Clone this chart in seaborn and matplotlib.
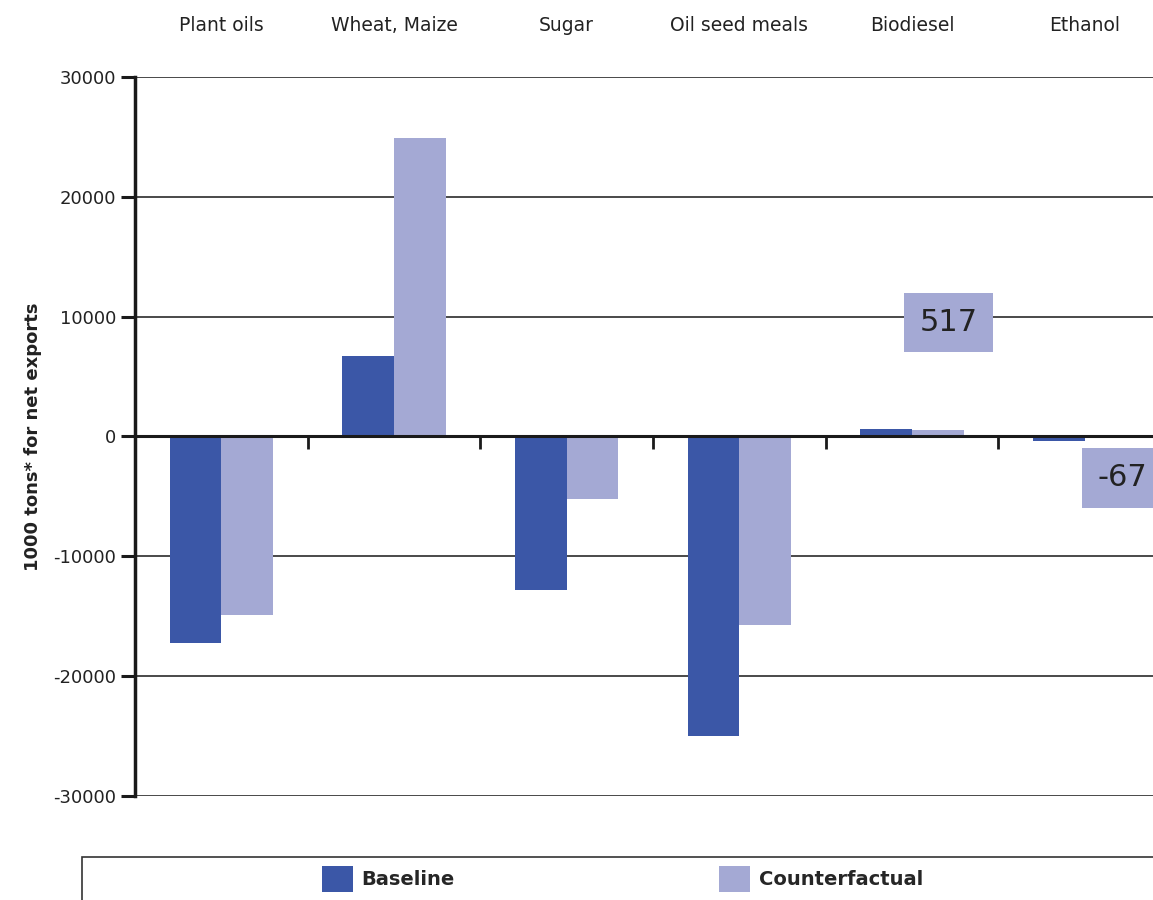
import pandas as pd
import matplotlib
import matplotlib.pyplot as plt
import seaborn as sns
from matplotlib.patches import Patch, Rectangle

# values (1000 tons, net exports)
categories = ['Plant oils', 'Wheat, Maize', 'Sugar', 'Oil seed meals', 'Biodiesel', 'Ethanol']
baseline = [-17200, 6700, -12800, -25000, 600, -400]
counterfactual = [-14900, 24900, -5200, -15700, 517, -67]
series_names = ['Baseline', 'Counterfactual']
colors = ['#3B57A7', '#A4A9D4']
y_ticks = [-30000, -20000, -10000, 0, 10000, 20000, 30000]

sns.set_style('white')
plt.rcParams['font.family'] = ['DejaVu Sans']

df = pd.DataFrame({
    'category': categories * 2,
    'value': baseline + counterfactual,
    'series': [series_names[0]] * len(categories) + [series_names[1]] * len(categories),
})

fig = plt.figure(figsize=(11.53, 9), dpi=100)
ax = fig.add_axes([0.1171, 0.1156, 0.8985, 0.7989])

sns.barplot(data=df, x='category', y='value', hue='series', palette=colors,
            width=0.6, saturation=1, legend=False, ax=ax, zorder=3, linewidth=0)

ax.set_ylim(-30000, 30000)
ax.set_xlim(-0.5, len(categories) - 0.5)
ax.set_yticks(y_ticks)
ax.set_yticklabels([str(t) for t in y_ticks], fontsize=13, color='#222222')
for t in y_ticks:
    if t != 0:
        ax.axhline(t, color='#3a3a3a', lw=1.3, zorder=1)

# zero line acts as the x axis, with ticks between categories
ax.spines['bottom'].set_position(('data', 0))
ax.spines['bottom'].set_linewidth(2.2)
ax.spines['bottom'].set_color('#1a1a1a')
ax.spines['bottom'].set_zorder(4)
ax.spines['top'].set_visible(False)
ax.spines['right'].set_visible(False)
ax.spines['left'].set_linewidth(2.5)
ax.spines['left'].set_color('#1a1a1a')

ax.set_xticks(range(len(categories)))
ax.set_xticklabels(categories, fontsize=13.5, color='#222222')
ax.set_xticks([i + 0.5 for i in range(len(categories) - 1)], minor=True)
ax.tick_params(axis='x', which='major', length=0, top=False, bottom=False,
               labeltop=True, labelbottom=False, pad=30)
ax.tick_params(axis='x', which='minor', length=9, width=2, direction='out',
               bottom=True, top=False, color='#1a1a1a')
ax.tick_params(axis='y', length=10, width=2.2, direction='out', left=True, color='#1a1a1a')
ax.set_xlabel('')
ax.set_ylabel('1000 tons* for net exports', fontsize=13, fontweight='bold',
              labelpad=8, color='#222222')

# value boxes for the two small counterfactual bars
box = dict(boxstyle='square,pad=0.5', facecolor=colors[1], edgecolor='none')
ax.text(4.21, 9500, f'{counterfactual[4]}', fontsize=22, ha='center', va='center',
        color='#222222', bbox=box, zorder=5)
ax.text(5.22, -3450, f'{counterfactual[5]}', fontsize=22, ha='center', va='center',
        color='#222222', bbox=box, zorder=5, clip_on=False)

# legend frame at the bottom
fig.add_artist(Rectangle((82 / 1153, -0.05), 1.0, 0.05 + 43 / 900, transform=fig.transFigure,
                         facecolor='none', edgecolor='#333333', lw=1.2))
handles = [Patch(facecolor=c, edgecolor='none', label=n) for c, n in zip(colors, series_names)]
fig.legend(handles=handles, loc='center left', bbox_to_anchor=(304 / 1153, 21 / 900),
           ncol=2, frameon=False, handlelength=1.6, handleheight=1.65, handletextpad=0.45,
           columnspacing=13.6, prop={'size': 14, 'weight': 'bold'})

plt.savefig('out.png', dpi=100)
